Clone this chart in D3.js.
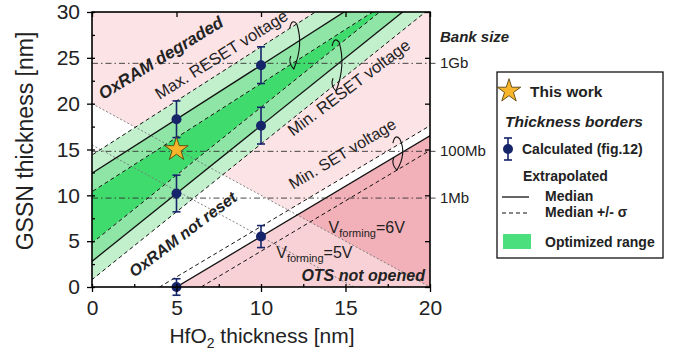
<!DOCTYPE html>
<html>
<head>
<meta charset="utf-8">
<script src="https://cdnjs.cloudflare.com/ajax/libs/d3/7.8.5/d3.min.js"></script>
<style>
body{margin:0;background:#fff;}
svg{font-family:"Liberation Sans",Arial,sans-serif;}
</style>
</head>
<body>
<svg id="chart" width="681" height="356"></svg>
<script>
// data
var xTicks=[0,5,10,15,20];
var yTicks=[0,5,10,15,20,25,30];
var borderNames=["Max. RESET voltage","Min. RESET voltage","Min. SET voltage"];
var borderIntercept=[12.4,2.8,-5.5];
var borderSlope=[1.18,1.48,1.1];
var sigmaUp=[2,2,1.1];
var sigmaDown=[2,2,1.6];
var calcX=[5,10,5,10,5,10];
var calcY=[18.3,24.2,10.2,17.6,0,5.5];
var calcErr=[2,2,2,2,0.9,1.2];
var starPoint=[5,15];
var formingLabels=["6V","5V"];
var formingSum=[20,15.5];
var bankLabels=["1Gb","100Mb","1Mb"];
var bankY=[24.4,14.8,9.7];

var svg=d3.select("#chart");
var x=d3.scaleLinear().domain([0,20]).range([92,430]);
var y=d3.scaleLinear().domain([0,30]).range([287,12]);
var ink="#222";

// polygon clipping by half planes, in data space
function clip(poly,f){
  var out=[];
  for(var i=0;i<poly.length;i++){
    var a=poly[i],b=poly[(i+1)%poly.length];
    var fa=f(a),fb=f(b);
    if(fa>=0) out.push(a);
    if((fa>=0)!=(fb>=0)){
      var t=fa/(fa-fb);
      out.push([a[0]+t*(b[0]-a[0]),a[1]+t*(b[1]-a[1])]);
    }
  }
  return out;
}
function lineAt(i,off){return function(xx){return borderIntercept[i]+off+borderSlope[i]*xx;};}
function above(i,off){return function(p){return p[1]-lineAt(i,off)(p[0]);};}
function below(i,off){return function(p){return lineAt(i,off)(p[0])-p[1];};}
function formingAbove(k){return function(p){return p[0]+p[1]-formingSum[k];};}
var rect=[[0,0],[20,0],[20,30],[0,30]];
var toPath=d3.line().x(function(d){return x(d[0]);}).y(function(d){return y(d[1]);});
function fillPoly(poly,color){
  if(poly.length<3) return;
  svg.append("path").attr("d",toPath(poly)+"Z").attr("fill",color).attr("stroke","none");
}

// pink regions
fillPoly(clip(clip(rect,formingAbove(0)),above(2,sigmaUp[2])),"#fce3e6");
fillPoly(clip(rect,below(2,0)),"#f8d1d6");
fillPoly(clip(clip(rect,below(2,0)),formingAbove(0)),"#f2b0b8");

// green optimized range
var bands=[
  [[0,sigmaUp[0]],[0,0],"#c2f0cd"],
  [[0,0],[0,-sigmaDown[0]],"#8fe5a5"],
  [[0,-sigmaDown[0]],[1,sigmaUp[1]],"#3fdb6d"],
  [[1,sigmaUp[1]],[1,0],"#8fe5a5"],
  [[1,0],[1,-sigmaDown[1]],"#c2f0cd"]
];
bands.forEach(function(b){
  fillPoly(clip(clip(rect,below(b[0][0],b[0][1])),above(b[1][0],b[1][1])),b[2]);
});

svg.append("clipPath").attr("id","plotclip").append("rect")
   .attr("x",x(0)).attr("y",y(30)).attr("width",x(20)-x(0)).attr("height",y(0)-y(30));
var lines=svg.append("g").attr("clip-path","url(#plotclip)");

// forming voltage lines
formingSum.forEach(function(s){
  lines.append("line")
     .attr("x1",x(0)).attr("y1",y(s)).attr("x2",x(s)).attr("y2",y(0))
     .attr("stroke","#777").attr("stroke-width",0.9).attr("stroke-dasharray","2,2");
});

// bank size lines
bankY.forEach(function(b,i){
  svg.append("line")
     .attr("x1",x(0)).attr("y1",y(b)).attr("x2",x(20)+8).attr("y2",y(b))
     .attr("stroke","#333").attr("stroke-width",0.9).attr("stroke-dasharray","6,3,1.5,3");
  svg.append("text").attr("x",x(20)+10).attr("y",y(b)+5)
     .attr("font-size",15).attr("fill",ink).text(bankLabels[i]);
});

// border lines
borderNames.forEach(function(n,i){
  [[sigmaUp[i],"4,3"],[0,null],[-sigmaDown[i],"4,3"]].forEach(function(o){
    var l=lineAt(i,o[0]);
    lines.append("line")
       .attr("x1",x(-1)).attr("y1",y(l(-1))).attr("x2",x(21)).attr("y2",y(l(21)))
       .attr("stroke","#111").attr("stroke-width",o[1]?1:1.3)
       .attr("stroke-dasharray",o[1]);
  });
});

// curly brackets marking each border group
var brackets=[[12.0,26.4,24],[14.5,24.2,26],[18.1,14.6,17]];
brackets.forEach(function(b){
  var cx=x(b[0]),cy=y(b[1]),h=b[2];
  svg.append("path")
     .attr("d","M"+(cx-5)+","+(cy-h+7)+" Q"+(cx-3)+","+(cy-h-3)+" "+(cx+2)+","+(cy-h+3)+
           " Q"+(cx+9)+","+cy+" "+(cx-1)+","+(cy+h)+" Q"+(cx-7)+","+(cy+h-6)+" "+(cx-4)+","+(cy+h-13))
     .attr("fill","none").attr("stroke","#111").attr("stroke-width",1.1);
});

// in-plot labels
var labels=[
  {t:"OxRAM degraded",x:0.65,y:20.4,r:-31.5,s:17,b:true},
  {t:"Max. RESET voltage",x:4.0,y:20.4,r:-32,s:16.5},
  {t:"Min. RESET voltage",x:11.9,y:16.4,r:-37,s:16.5},
  {t:"Min. SET voltage",x:11.9,y:10.6,r:-31,s:16},
  {t:"OxRAM not reset",x:2.5,y:1.0,r:-37,s:16,b:true}
];
labels.forEach(function(l){
  svg.append("text")
     .attr("transform","translate("+x(l.x)+","+y(l.y)+") rotate("+l.r+")")
     .attr("font-size",l.s).attr("fill",ink)
     .attr("font-weight",l.b?"bold":null).attr("font-style",l.b?"italic":null)
     .text(l.t);
});
svg.append("text").attr("x",x(19.7)).attr("y",y(0.65)).attr("text-anchor","end")
   .attr("font-size",16).attr("font-weight","bold").attr("font-style","italic")
   .attr("fill",ink).text("OTS not opened");
var formingPos=[[14.0,5.9],[10.9,3.2]];
formingLabels.forEach(function(v,i){
  var t=svg.append("text").attr("x",x(formingPos[i][0])).attr("y",y(formingPos[i][1]))
     .attr("font-size",16).attr("fill",ink);
  t.append("tspan").text("V");
  t.append("tspan").attr("font-size",11).attr("dy",4).text("forming");
  t.append("tspan").attr("dy",-4).text("="+v);
});

// calculated points with error bars
var navy="#16246a";
var pts=svg.append("g");
calcX.forEach(function(cx,i){
  var px=x(cx),py=y(calcY[i]),t=y(calcY[i]+calcErr[i]),b=y(calcY[i]-calcErr[i]);
  pts.append("line").attr("x1",px).attr("x2",px).attr("y1",t).attr("y2",b)
     .attr("stroke",navy).attr("stroke-width",1.6);
  [t,b].forEach(function(c){
    pts.append("line").attr("x1",px-4).attr("x2",px+4).attr("y1",c).attr("y2",c)
       .attr("stroke",navy).attr("stroke-width",1.6);
  });
  pts.append("circle").attr("cx",px).attr("cy",py).attr("r",5).attr("fill",navy);
});
svg.append("path").attr("d",d3.symbol().type(d3.symbolStar).size(170)())
   .attr("transform","translate("+x(starPoint[0])+","+y(starPoint[1])+")")
   .attr("fill","#f6b52a").attr("stroke","#5b4512").attr("stroke-width",0.9);

// axes
var minorX=d3.range(0,20.01,2.5),minorY=d3.range(0,30.01,2.5);
function styleAxis(g){g.select(".domain").remove();g.selectAll("line").attr("stroke","#000").attr("stroke-width",1.3);}
svg.append("g").attr("transform","translate(0,"+y(0)+")")
   .call(d3.axisBottom(x).tickValues(minorX).tickSize(-3).tickFormat("")).call(styleAxis);
svg.append("g").attr("transform","translate(0,"+y(0)+")")
   .call(d3.axisBottom(x).tickValues(xTicks).tickSize(5).tickPadding(8).tickFormat(d3.format("d")))
   .call(styleAxis)
   .selectAll("text").attr("font-size",21).attr("fill",ink).attr("font-family","Liberation Sans, Arial, sans-serif");
svg.append("g").attr("transform","translate("+x(0)+",0)")
   .call(d3.axisLeft(y).tickValues(minorY).tickSize(-3).tickFormat("")).call(styleAxis);
svg.append("g").attr("transform","translate("+x(0)+",0)")
   .call(d3.axisLeft(y).tickValues(yTicks).tickSize(5).tickPadding(7).tickFormat(d3.format("d")))
   .call(styleAxis)
   .selectAll("text").attr("font-size",21).attr("fill",ink).attr("font-family","Liberation Sans, Arial, sans-serif");
svg.append("g").attr("transform","translate(0,"+y(30)+")")
   .call(d3.axisTop(x).tickValues(xTicks).tickSize(-5).tickFormat("")).call(styleAxis);
svg.append("g").attr("transform","translate("+x(20)+",0)")
   .call(d3.axisRight(y).tickValues(yTicks).tickSize(-5).tickFormat("")).call(styleAxis);
svg.append("rect").attr("x",x(0)).attr("y",y(30)).attr("width",x(20)-x(0)).attr("height",y(0)-y(30))
   .attr("fill","none").attr("stroke","#000").attr("stroke-width",1.6);

// axis titles
var xt=svg.append("text").attr("x",262).attr("y",343).attr("text-anchor","middle")
   .attr("font-size",21).attr("fill",ink);
xt.append("tspan").text("HfO");
xt.append("tspan").attr("font-size",14).attr("dy",5).text("2");
xt.append("tspan").attr("dy",-5).text(" thickness [nm]");
svg.append("text").attr("transform","translate(33,141) rotate(-90)").attr("text-anchor","middle")
   .attr("font-size",23).attr("fill",ink).text("GSSN thickness [nm]");

svg.append("text").attr("x",440).attr("y",42).attr("font-size",15)
   .attr("font-weight","bold").attr("font-style","italic").attr("fill",ink).text("Bank size");

// legend
var lg=svg.append("g");
lg.append("rect").attr("x",497).attr("y",72).attr("width",166).attr("height",186)
  .attr("fill","#fff").attr("stroke","#111").attr("stroke-width",1.3);
lg.append("path").attr("d",d3.symbol().type(d3.symbolStar).size(170)())
  .attr("transform","translate(509,91)").attr("fill","#f6b52a").attr("stroke","#5b4512").attr("stroke-width",0.9);
lg.append("text").attr("x",530).attr("y",97).attr("font-size",15.5).attr("font-weight","bold").attr("fill",ink).text("This work");
lg.append("text").attr("x",505).attr("y",127).attr("font-size",15.5).attr("font-weight","bold")
  .attr("font-style","italic").attr("fill",ink).text("Thickness borders");
lg.append("line").attr("x1",508).attr("x2",508).attr("y1",138).attr("y2",160).attr("stroke",navy).attr("stroke-width",1.6);
[138,160].forEach(function(c){
  lg.append("line").attr("x1",504).attr("x2",512).attr("y1",c).attr("y2",c).attr("stroke",navy).attr("stroke-width",1.6);
});
lg.append("circle").attr("cx",508).attr("cy",149).attr("r",5).attr("fill",navy);
lg.append("text").attr("x",522).attr("y",154).attr("font-size",14).attr("font-weight","bold").attr("fill",ink).text("Calculated (fig.12)");
lg.append("text").attr("x",523).attr("y",181).attr("font-size",14).attr("font-weight","bold").attr("fill",ink).text("Extrapolated");
lg.append("line").attr("x1",502).attr("x2",529).attr("y1",197).attr("y2",197).attr("stroke","#111").attr("stroke-width",1.3);
lg.append("line").attr("x1",502).attr("x2",529).attr("y1",213).attr("y2",213).attr("stroke","#111").attr("stroke-width",1.1).attr("stroke-dasharray","4,3");
lg.append("text").attr("x",545).attr("y",201).attr("font-size",14).attr("font-weight","bold").attr("fill",ink).text("Median");
lg.append("text").attr("x",545).attr("y",217).attr("font-size",14).attr("font-weight","bold").attr("fill",ink).text("Median +/- \u03c3");
lg.append("rect").attr("x",503).attr("y",234).attr("width",28).attr("height",15).attr("fill","#4be07d");
lg.append("text").attr("x",545).attr("y",247).attr("font-size",14).attr("font-weight","bold").attr("fill",ink).text("Optimized range");
</script>
</body>
</html>
